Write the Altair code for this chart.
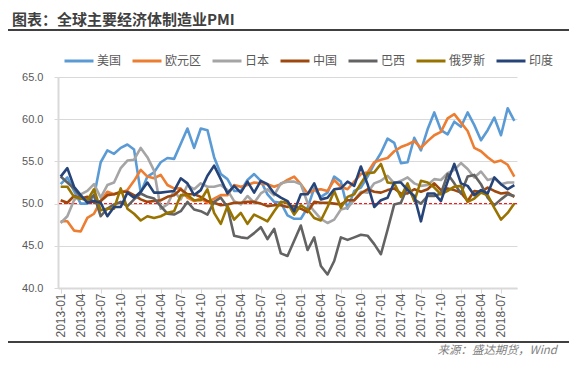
import altair as alt
import pandas as pd

months = [f"{y}-{m:02d}" for y in range(2013, 2019) for m in range(1, 13)][:69]
tick_months = months[::3]

series_names = ["美国", "欧元区", "日本", "中国", "巴西", "俄罗斯", "印度"]
series_colors = ["#5b9bd5", "#ed7d31", "#a5a5a5", "#9e480e", "#636363", "#997300", "#264478"]

us = [52.3, 53.1, 51.5, 50.0, 50.0, 50.9, 54.9, 56.3, 55.9, 56.6, 57.0, 56.4,
      51.3, 53.2, 53.7, 54.9, 55.4, 55.3, 57.1, 58.9, 56.6, 58.9, 58.7, 55.5,
      53.5, 52.9, 51.5, 51.5, 52.8, 53.5, 52.7, 51.1, 50.2, 50.1, 48.6, 48.2,
      48.2, 49.5, 51.8, 50.8, 51.3, 53.2, 52.6, 49.4, 51.5, 51.9, 53.2, 54.7,
      56.0, 57.7, 57.2, 54.8, 54.9, 57.8, 56.3, 58.8, 60.8, 58.7, 58.2, 59.7,
      59.1, 60.8, 59.3, 57.5, 58.7, 60.2, 58.1, 61.3, 59.8]
eu = [47.9, 47.9, 46.8, 46.7, 48.3, 48.8, 50.3, 51.4, 51.1, 51.3, 51.6, 52.7,
      54.0, 53.2, 53.0, 53.4, 52.2, 51.8, 51.8, 50.7, 50.3, 50.6, 50.1, 50.6,
      51.0, 51.0, 52.2, 52.0, 52.2, 52.5, 52.4, 52.3, 52.0, 52.3, 52.8, 53.2,
      52.3, 51.2, 51.6, 51.7, 51.5, 52.8, 52.0, 51.7, 52.6, 53.5, 53.7, 54.9,
      55.2, 55.4, 56.2, 56.7, 57.0, 57.4, 56.6, 57.4, 58.1, 58.5, 60.1, 60.6,
      59.6, 58.6, 56.6, 56.2, 55.5, 54.9, 55.1, 54.6, 53.2]
jp = [47.7, 48.5, 50.4, 51.1, 51.5, 52.3, 50.7, 52.2, 52.5, 54.2, 55.1, 55.2,
      56.6, 55.5, 53.9, 49.4, 49.9, 51.5, 50.5, 52.2, 51.7, 52.4, 52.0, 52.0,
      52.2, 51.6, 50.3, 49.9, 50.9, 50.1, 51.2, 51.7, 51.0, 52.4, 52.6, 52.6,
      52.3, 50.1, 49.1, 48.2, 47.7, 48.1, 49.3, 49.5, 50.4, 51.4, 51.3, 52.4,
      52.7, 53.3, 52.4, 52.7, 53.1, 52.4, 52.1, 52.2, 52.9, 52.8, 53.6, 54.0,
      54.8, 54.1, 53.1, 53.8, 52.8, 53.0, 52.3, 52.5, 52.5]
cn = [50.4, 50.1, 50.9, 50.6, 50.8, 50.1, 50.3, 51.0, 51.1, 51.4, 51.4, 51.0,
      50.5, 50.2, 50.3, 50.4, 50.8, 51.0, 51.7, 51.1, 51.1, 50.8, 50.3, 50.1,
      49.8, 49.9, 50.1, 50.1, 50.2, 50.2, 50.0, 49.7, 49.8, 49.8, 49.6, 49.7,
      49.4, 49.0, 50.2, 50.1, 50.1, 50.0, 49.9, 50.4, 50.4, 51.2, 51.7, 51.4,
      51.3, 51.6, 51.8, 51.2, 51.2, 51.7, 51.4, 51.7, 52.4, 51.6, 51.8, 51.6,
      51.3, 50.3, 51.5, 51.4, 51.9, 51.5, 51.2, 51.3, 50.8]
br = [53.2, 52.5, 51.8, 50.8, 50.4, 51.0, 48.5, 49.4, 49.9, 50.2, 49.7, 50.5,
      51.2, 50.8, 50.6, 49.7, 48.8, 48.7, 49.1, 50.2, 49.3, 49.1, 48.7, 50.2,
      50.7, 49.6, 46.2, 46.0, 45.9, 46.5, 47.2, 45.8, 47.0, 44.1, 43.8, 45.6,
      47.4, 44.5, 46.0, 42.6, 41.6, 43.2, 46.0, 45.7, 46.0, 46.3, 46.2, 45.2,
      44.0, 46.9, 49.9, 50.1, 52.0, 50.5, 50.0, 50.9, 50.9, 51.2, 53.5, 52.4,
      51.2, 53.2, 53.4, 52.3, 50.7, 49.8, 50.5, 51.1, 50.9]
ru = [52.0, 52.0, 50.8, 50.6, 50.4, 51.7, 49.2, 49.4, 49.4, 51.8, 49.4, 48.8,
      48.0, 48.5, 48.3, 48.5, 48.9, 49.1, 51.0, 51.0, 50.4, 50.4, 51.7, 48.9,
      47.6, 49.7, 48.1, 48.9, 47.6, 48.7, 48.3, 47.9, 49.1, 50.2, 50.1, 48.7,
      49.8, 49.3, 48.3, 48.0, 49.6, 51.5, 49.5, 50.8, 51.1, 52.4, 53.6, 53.7,
      54.7, 52.5, 52.4, 50.8, 52.4, 50.3, 52.7, 52.5, 51.9, 51.1, 51.5, 52.0,
      52.1, 50.2, 50.6, 51.3, 51.0, 49.5, 48.1, 48.9, 50.0]
ind = [53.2, 54.2, 52.0, 51.0, 50.1, 50.3, 50.1, 48.5, 49.6, 49.6, 51.3, 50.7,
       51.4, 52.5, 51.3, 51.3, 51.4, 51.5, 53.0, 52.4, 51.0, 51.6, 53.3, 54.5,
       52.9, 51.2, 52.1, 51.3, 52.6, 51.3, 52.7, 52.3, 51.2, 50.7, 50.3, 49.1,
       51.1, 51.1, 52.4, 50.5, 50.7, 51.7, 51.8, 52.6, 52.1, 54.4, 52.3, 49.6,
       50.4, 50.7, 52.5, 52.5, 51.6, 50.9, 47.9, 51.2, 51.2, 50.3, 52.6, 54.7,
       52.4, 52.1, 51.0, 51.6, 51.2, 53.1, 52.3, 51.7, 52.2]

y_ticks = [40, 45, 50, 55, 60, 65]

title_text = "图表：全球主要经济体制造业PMI"
source_text = "来源：盛达期货，Wind"

all_series = [us, eu, jp, cn, br, ru, ind]
rows = []
for name, vals in zip(series_names, all_series):
    for m, v in zip(months, vals):
        rows.append({"month": m, "series": name, "value": v})
df = pd.DataFrame(rows)

W, H = 459, 211
PL, PT = 50, 69
PR = 561 - PL - W
PB = 350 - PT - H

x_enc = alt.X("month:O", sort=months,
              scale=alt.Scale(type="point", padding=0.4),
              axis=alt.Axis(values=tick_months, labelAngle=270, title=None,
                            labelFont="Liberation Sans", labelFontSize=12,
                            labelColor="#595959", domainColor="#d9d9d9",
                            domainWidth=2, tickColor="#d9d9d9", tickSize=5,
                            labelPadding=0, grid=False))
y_enc = alt.Y("value:Q", scale=alt.Scale(domain=[40, 65], nice=False, zero=False),
              axis=alt.Axis(values=y_ticks, format=".1f", title=None,
                            labelFont="Liberation Sans", labelFontSize=11,
                            labelColor="#595959", domainColor="#d9d9d9",
                            domainWidth=2, tickColor="#d9d9d9", tickSize=4,
                            labelPadding=11, grid=True, gridColor="#d9d9d9",
                            gridWidth=1))

lines = alt.Chart(df).mark_line(strokeWidth=2.6, strokeJoin="round").encode(
    x=x_enc,
    y=y_enc,
    color=alt.Color("series:N", sort=series_names,
                    scale=alt.Scale(domain=series_names, range=series_colors),
                    legend=alt.Legend(orient="none", legendX=5, legendY=-32,
                                      direction="horizontal", symbolType="stroke",
                                      symbolSize=841, symbolStrokeWidth=3,
                                      labelFont="Noto Sans CJK SC", labelFontSize=12,
                                      labelColor="#595959", columnPadding=4,
                                      labelOffset=2, title=None)),
    detail="series:N",
)

ref50 = alt.Chart(pd.DataFrame({"v": [50]})).mark_rule(
    color="#ff0000", strokeDash=[3, 2], strokeWidth=1
).encode(y=alt.Y("v:Q"))

one = pd.DataFrame({"t": [title_text], "s": [source_text]})
title = alt.Chart(one).mark_text(
    align="left", baseline="top", font="Noto Sans CJK SC",
    fontSize=15, fontWeight="bold", color="#404040"
).encode(x=alt.value(-46), y=alt.value(-64), text="t:N")

source = alt.Chart(one).mark_text(
    align="right", baseline="middle", font="Noto Sans CJK SC",
    fontSize=11.5, fontStyle="italic", color="#7f7f7f"
).encode(x=alt.value(499), y=alt.value(274), text="s:N")

top_line = alt.Chart(one).mark_rule(color="#000000", strokeWidth=1.5).encode(
    x=alt.value(-50), x2=alt.value(511), y=alt.value(-47))
bottom_line = alt.Chart(one).mark_rule(color="#000000", strokeWidth=1.5).encode(
    x=alt.value(-50), x2=alt.value(511), y=alt.value(265))

chart = alt.layer(ref50, lines, title, source, top_line, bottom_line).properties(
    width=W, height=H,
    autosize=alt.AutoSizeParams(type="none"),
    padding={"left": PL, "top": PT, "right": PR, "bottom": PB},
    background="white",
).configure_view(stroke="transparent")

chart.save("out.html", embed_options={"renderer": "svg", "actions": False})
